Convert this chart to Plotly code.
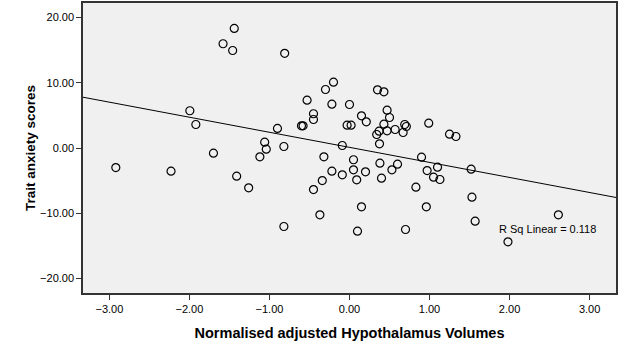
import numpy as np
import plotly.graph_objects as go

volumes = [-2.92, -2.23, -1.995, -1.92, -1.70, -1.58, -1.46, -1.44, -1.41, -1.26,
           -1.12, -1.06, -1.04, -0.90, -0.82, -0.82, -0.81, -0.60, -0.58, -0.53,
           -0.45, -0.45, -0.45, -0.37, -0.34, -0.32, -0.30, -0.22, -0.22, -0.20,
           -0.09, -0.09, -0.03, 0.02, 0.00, 0.05, 0.05, 0.09, 0.10, 0.15,
           0.15, 0.20, 0.21, 0.34, 0.35, 0.37, 0.375, 0.38, 0.40, 0.43,
           0.43, 0.47, 0.47, 0.50, 0.53, 0.57, 0.60, 0.67, 0.69, 0.71,
           0.70, 0.83, 0.90, 0.96, 0.97, 0.99, 1.05, 1.10, 1.13, 1.25,
           1.33, 1.52, 1.53, 1.57, 1.98, 2.61]
anxiety = [-2.99, -3.55, 5.70, 3.60, -0.79, 15.96, 14.93, 18.3, -4.32, -6.10,
           -1.35, 0.89, -0.18, 2.99, 0.23, -12.02, 14.5, 3.40, 3.40, 7.32,
           5.24, 4.36, -6.36, -10.23, -4.98, -1.35, 8.96, 6.71, -3.55, 10.08,
           0.38, -4.11, 3.49, 3.49, 6.66, -1.8, -3.34, -4.88, -12.74, 4.93,
           -9.0, -3.65, 4.01, 2.07, 8.91, 2.58, 0.64, -2.32, -4.62, 8.6,
           3.65, 5.79, 2.63, 4.67, -3.34, 2.83, -2.48, 2.37, 3.6, 3.29,
           -12.48, -6.0, -1.4, -9.0, -3.45, 3.80, -4.47, -2.94, -4.82, 2.11,
           1.76, -3.24, -7.53, -11.2, -14.36, -10.23]

x_range = [-3.33, 3.33]
y_range = [-22.2, 22.2]
x_ticks = [-3, -2, -1, 0, 1, 2, 3]
y_ticks = [-20, -10, 0, 10, 20]
r_sq_label = "R Sq Linear = 0.118"

slope, intercept = np.polyfit(volumes, anxiety, 1)
line_x = np.array(x_range)
line_y = intercept + slope * line_x

FONT = "Liberation Sans, Arial"

fig = go.Figure()
fig.add_trace(go.Scatter(x=line_x, y=line_y, mode="lines",
                         line=dict(color="black", width=1), hoverinfo="skip"))
fig.add_trace(go.Scatter(x=volumes, y=anxiety, mode="markers",
                         marker=dict(symbol="circle-open", size=8, color="black",
                                     line=dict(width=1.2, color="black"))))
fig.add_annotation(x=2.48, y=-12.45, text=r_sq_label, showarrow=False,
                   font=dict(family=FONT, size=11, color="black"))

axis_common = dict(showgrid=False, zeroline=False, showline=True, mirror=True,
                   linecolor="#333333", linewidth=1.5, ticks="outside", ticklen=5,
                   tickcolor="#333333", tickformat=".2f", automargin=False,
                   tickfont=dict(family=FONT, size=11, color="black"))
fig.update_xaxes(range=x_range, tickvals=x_ticks, **axis_common,
                 title=dict(text="<b>Normalised adjusted Hypothalamus Volumes</b>",
                            font=dict(family=FONT, size=14.5, color="black"),
                            standoff=14))
fig.update_yaxes(range=y_range, tickvals=y_ticks, **axis_common,
                 title=dict(text="<b>Trait anxiety scores</b>",
                            font=dict(family=FONT, size=13.5, color="black"),
                            standoff=1))
fig.update_layout(width=631, height=356, showlegend=False,
                  plot_bgcolor="#f0f0f0", paper_bgcolor="white",
                  margin=dict(l=83, r=15, t=3, b=63))
fig.write_html("out.html", config={"displayModeBar": False},
               post_script="document.body.style.margin='0';document.body.style.padding='0';")
